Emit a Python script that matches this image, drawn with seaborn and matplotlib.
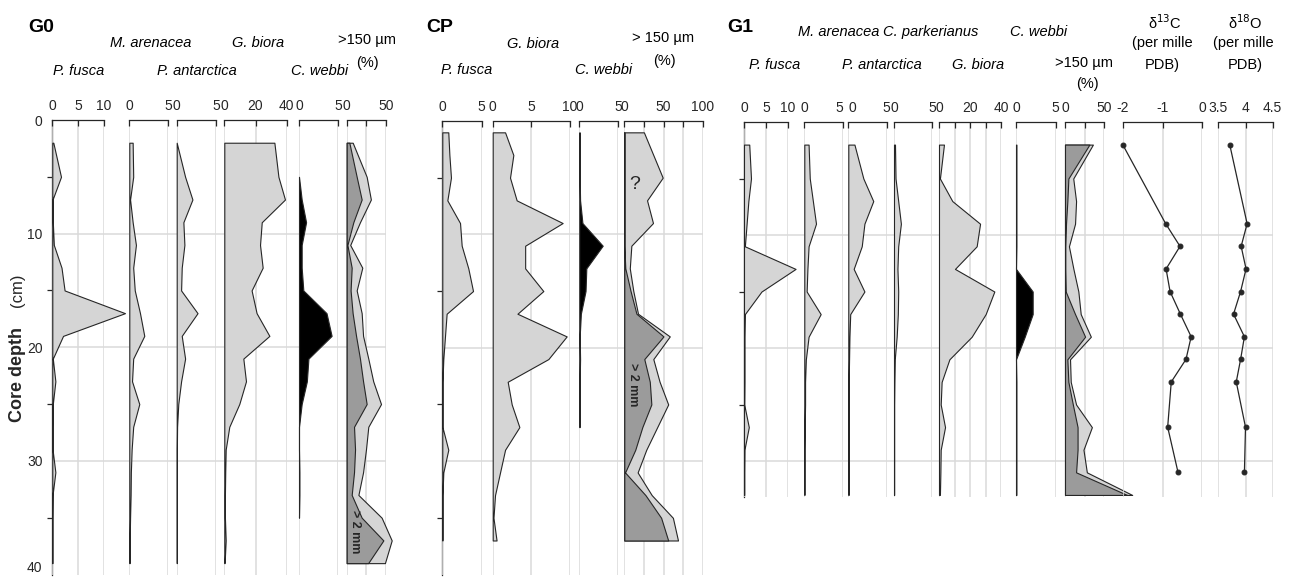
import numpy as np
import matplotlib.pyplot as plt
import seaborn as sns

sns.set_style("white")
plt.rcParams['font.family'] = ['Liberation Sans', 'DejaVu Sans']

nan = np.nan

# ---- G0 core (cm depth, counts / %)
g0_depth = [2, 5, 7, 9, 11, 13, 15, 17, 19, 21, 23, 25, 27, 29, 31, 33, 35, 37, 39]
g0_p_fusca = [0.2, 1.7, 0.05, 0.1, 0.3, 1.8, 2.4, 14.2, 2.1, 0.1, 0.6, 0.1, 0.05, 0.05, 0.6, 0.05, 0.0, 0.0, 0.0]
g0_m_arenacea = [0.43, 0.5, 0.1, 0.43, 0.85, 0.5, 0.7, 1.37, 1.92, 0.5, 0.35, 1.28, 0.5, 0.3, 0.2, 0.17, 0.1, 0.05, 0.05]
g0_p_antarctica = [0.0, 1.07, 2.0, 0.85, 0.98, 0.64, 0.56, 2.65, 0.64, 1.07, 0.56, 0.2, 0.05, 0.02, 0.02, 0.02, 0.02, 0.02, 0.02]
g0_g_biora = [32.1, 34.7, 38.9, 24.0, 22.9, 24.6, 17.5, 20.7, 28.9, 12.2, 13.9, 9.6, 3.2, 0.9, 0.6, 0.4, 0.4, 0.9, 0.2]
g0_c_webbi = [nan, 0.0, 0.34, 0.9, 0.34, 0.34, 0.55, 3.5, 4.15, 1.2, 1.0, 0.34, 0.0, 0.0, 0.05, 0.05, 0.0, nan, nan]
g0_coarse_total = [7.7, 25.6, 31.0, 17.0, 4.5, 20.0, 12.8, 19.2, 21.0, 27.7, 34.0, 44.0, 27.7, 24.7, 21.0, 15.0, 44.8, 57.7, 49.0]
g0_gravel = [3.4, 12.8, 19.2, 8.5, 0.9, 6.4, 5.0, 7.6, 12.0, 17.0, 21.0, 25.6, 9.4, 10.7, 9.4, 6.4, 19.2, 47.0, 27.5]

# ---- CP core
cp_depth = [1, 3, 5, 7, 9, 11, 13, 15, 17, 19, 21, 23, 25, 27, 29, 31, 33, 35, 37]
cp_p_fusca = [0.76, 0.9, 1.1, 0.64, 2.25, 2.46, 3.3, 3.9, 0.55, 0.34, 0.13, 0.02, 0.02, 0.02, 0.76, 0.13, 0.02, 0.02, 0.02]
cp_g_biora = [1.6, 2.67, 2.24, 3.1, 9.05, 4.2, 4.2, 6.55, 3.2, 9.57, 7.2, 1.94, 2.46, 3.45, 1.6, 0.95, 0.3, 0.1, 0.5]
cp_c_webbi = [0.05, 0.05, 0.05, 0.1, 0.4, 3.0, 0.9, 0.8, 0.2, 0.05, 0.1, 0.05, 0.05, 0.05, nan, nan, nan, nan, nan]
cp_coarse_total = [25.0, 37.0, 49.0, 29.0, 36.6, 9.0, 7.0, 11.5, 17.5, 58.0, 37.0, 45.0, 56.0, 42.0, 28.0, 17.0, 35.0, 62.0, 68.5]
cp_gravel = [0.0, 0.0, 0.0, 0.0, 0.0, 0.0, 1.3, 8.0, 15.5, 50.0, 25.5, 32.5, 34.5, 23.0, 14.0, 1.0, 27.0, 47.0, 56.0]

# ---- G1 core
g1_depth = [2, 5, 7, 9, 11, 13, 15, 17, 19, 21, 23, 25, 27, 29, 31, 33]
g1_p_fusca = [1.2, 1.6, 1.0, 0.6, 0.2, 11.8, 4.0, 0.2, 0.1, 0.1, 0.1, 0.05, 1.1, 0.1, 0.05, 0.05]
g1_m_arenacea = [0.55, 0.7, 1.1, 1.5, 0.55, 0.4, 0.3, 2.1, 0.55, 0.2, 0.1, 0.1, 0.05, 0.02, 0.02, 0.02]
g1_p_antarctica = [0.8, 1.96, 3.25, 2.1, 1.75, 0.7, 2.1, 0.25, 0.15, 0.1, 0.05, 0.05, 0.05, 0.05, 0.05, 0.05]
g1_c_parkerianus = [0.13, 0.2, 0.55, 0.9, 0.55, 0.45, 0.55, 0.5, 0.35, 0.1, 0.05, 0.02, 0.02, 0.02, 0.02, 0.02]
g1_g_biora = [3.2, 0.6, 8.6, 26.5, 24.3, 10.3, 35.7, 30.1, 21.1, 6.7, 1.7, 1.1, 3.9, 1.1, 0.9, 0.6]
g1_c_webbi = [0.05, 0.05, 0.05, 0.05, 0.05, 0.0, 2.1, 2.1, 1.1, 0.0, 0.05, 0.05, 0.05, 0.05, 0.05, 0.05]
g1_coarse_total = [35.5, 10.5, 14.1, 12.8, 5.0, 10.7, 17.0, 20.0, 32.9, 6.4, 7.3, 14.1, 34.2, 23.5, 27.8, 85.5]
g1_gravel = [31.0, 4.3, 3.0, 1.3, 0.3, 0.3, 0.9, 12.8, 25.6, 3.0, 4.3, 10.0, 16.0, 16.0, 14.1, 79.0]

g1_iso_depth = [2, 9, 11, 13, 15, 17, 19, 21, 23, 27, 31]
d13c = [-2.0, -0.92, -0.56, -0.91, -0.81, -0.55, -0.28, -0.41, -0.78, -0.87, -0.61]
d18o = [3.71, 4.03, 3.92, 4.01, 3.91, 3.78, 3.98, 3.91, 3.83, 4.0, 3.98]

W, H = 1289, 577
INK = '#262626'
GRID = '#dadada'
LIGHT = '#d5d5d5'
DARK = '#9b9b9b'

fig = plt.figure(figsize=(W / 100, H / 100), dpi=100)


def px_axes(x0, x1, y0, y1):
    ax = fig.add_axes([x0 / W, 1 - y1 / H, (x1 - x0) / W, (y1 - y0) / H])
    ax.patch.set_alpha(0)
    return ax


def label(x, y, s, **kw):
    kw.setdefault('fontsize', 10.5)
    fig.text(x / W, 1 - y / H, s, ha='center', va='center', color='black', **kw)


def frame(x0, x1, top, bottom, max_depth, labelled):
    ax = px_axes(x0, x1, top, bottom)
    ax.set_xlim(0, 1)
    ax.set_ylim(max_depth, 0)
    ax.set_xticks([])
    for s in ['top', 'right', 'bottom']:
        ax.spines[s].set_visible(False)
    ax.spines['left'].set_color(INK)
    ax.spines['left'].set_linewidth(0.9)
    ax.set_yticks(np.arange(0, max_depth + 0.1, 10))
    ax.set_yticks(np.arange(5, max_depth, 10), minor=True)
    if not labelled:
        ax.set_yticklabels([])
    ax.tick_params(axis='y', which='major', length=5, width=0.9, color=INK, labelsize=10, pad=2)
    ax.tick_params(axis='y', which='minor', left=True, length=3.5, width=0.9, color=INK)
    for d in (10, 20, 30):
        ax.axhline(d, color=GRID, lw=1.1, zorder=0)
    return ax


def track(x0, x1, top, bottom, max_depth, lim, ticks, ticklabels):
    ax = px_axes(x0, x1, top, bottom)
    ax.set_xlim(*lim)
    ax.set_ylim(max_depth, 0)
    ax.set_yticks([])
    ax.set_xticks(ticks)
    ax.set_xticklabels(ticklabels)
    ax.xaxis.tick_top()
    ax.tick_params(axis='x', direction='in', length=4, width=0.9, color=INK, pad=5, labelsize=10)
    for s in ['left', 'right', 'bottom']:
        ax.spines[s].set_visible(False)
    ax.spines['top'].set_color(INK)
    ax.spines['top'].set_linewidth(0.9)
    ax.grid(axis='x', color=GRID, lw=1.1)
    ax.set_axisbelow(True)
    return ax


def area(ax, depth, values, color):
    ax.fill_betweenx(depth, 0, values, facecolor=color, edgecolor=INK,
                     linewidth=0.8, clip_on=False, zorder=2)


# ================= G0 =================
T0, B0 = 120, 574.5
ax = frame(52.3, 385.7, T0, B0, 40, True)
ax.get_yticklabels()[-1].set_va('bottom')
ax = track(52.3, 103.5, T0, B0, 40, (0, 10), [0, 5, 10], ['0', '5', '10'])
area(ax, g0_depth, g0_p_fusca, LIGHT)
ax = track(129.3, 168.3, T0, B0, 40, (0, 5), [0, 5], ['0', '5'])
area(ax, g0_depth, g0_m_arenacea, LIGHT)
ax = track(176.7, 216, T0, B0, 40, (0, 5), [0, 5], ['0', '5'])
area(ax, g0_depth, g0_p_antarctica, LIGHT)
ax = track(224.3, 286.7, T0, B0, 40, (0, 40), [0, 20, 40], ['0', '20', '40'])
area(ax, g0_depth, g0_g_biora, LIGHT)
ax = track(299, 338.3, T0, B0, 40, (0, 5), [0, 5], ['0', '5'])
area(ax, g0_depth, g0_c_webbi, 'black')
ax = track(346.7, 385.7, T0, B0, 40, (0, 50), [0, 25, 50], ['0', '', '50'])
area(ax, g0_depth, g0_coarse_total, LIGHT)
area(ax, g0_depth, g0_gravel, DARK)
ax.text(10.5, 36.2, '> 2 mm', rotation=270, ha='center', va='center',
        fontsize=9, fontweight='bold', zorder=5)

label(41.5, 27, 'G0', fontsize=14, fontweight='bold')
label(79, 71, 'P. fusca', style='italic')
label(151, 43, 'M. arenacea', style='italic')
label(197, 71, 'P. antarctica', style='italic')
label(258, 43, 'G. biora', style='italic')
label(320, 71, 'C. webbi', style='italic')
label(367, 40, '>150 µm')
label(367, 63, '(%)')
fig.text(18 / W, 1 - 375 / H, 'Core depth', rotation=90, ha='center', va='center',
         fontsize=13, fontweight='bold')
fig.text(18 / W, 1 - 290 / H, '(cm)', rotation=90, ha='center', va='center', fontsize=12)

# ================= CP =================
T1, B1 = 121, 574.5
frame(442.3, 702.7, T1, B1, 40, False)
ax = track(442.3, 481.7, T1, B1, 40, (0, 5), [0, 5], ['0', '5'])
area(ax, cp_depth, cp_p_fusca, LIGHT)
ax = track(492.7, 570, T1, B1, 40, (0, 10), [0, 5, 10], ['0', '5', '10'])
area(ax, cp_depth, cp_g_biora, LIGHT)
ax = track(579.3, 618.3, T1, B1, 40, (0, 5), [0, 5], ['0', '5'])
area(ax, cp_depth, cp_c_webbi, 'black')
ax = track(624.3, 702.7, T1, B1, 40, (0, 100), [0, 25, 50, 75, 100], ['0', '', '50', '', '100'])
area(ax, cp_depth, cp_coarse_total, LIGHT)
area(ax, cp_depth, cp_gravel, DARK)
ax.text(13, 5.6, '?', ha='center', va='center', fontsize=14, zorder=5)
ax.text(11, 23.3, '> 2 mm', rotation=270, ha='center', va='center',
        fontsize=9, fontweight='bold', zorder=5)

label(439.5, 27, 'CP', fontsize=14, fontweight='bold')
label(467, 70, 'P. fusca', style='italic')
label(533, 44, 'G. biora', style='italic')
label(604, 70, 'C. webbi', style='italic')
label(663, 38, '> 150 µm')
label(664, 61, '(%)')

# ================= G1 =================
T2, B2, D2 = 122, 497.2, 33.2
frame(744, 1272.7, T2, B2, D2, False)
ax = track(744, 787.7, T2, B2, D2, (0, 10), [0, 5, 10], ['0', '5', '10'])
area(ax, g1_depth, g1_p_fusca, LIGHT)
ax = track(804.3, 843.3, T2, B2, D2, (0, 5), [0, 5], ['0', '5'])
ax.get_xticklabels()[-1].set_ha('right')
area(ax, g1_depth, g1_m_arenacea, LIGHT)
ax = track(848.3, 886.7, T2, B2, D2, (0, 5), [0, 5], ['0', '5'])
ax.get_xticklabels()[0].set_ha('left')
area(ax, g1_depth, g1_p_antarctica, LIGHT)
ax = track(894, 932.3, T2, B2, D2, (0, 5), [0, 5], ['0', '5'])
area(ax, g1_depth, g1_c_parkerianus, LIGHT)
ax = track(939, 1001, T2, B2, D2, (0, 40), [0, 10, 20, 30, 40], ['0', '', '20', '', '40'])
area(ax, g1_depth, g1_g_biora, LIGHT)
ax = track(1016, 1055.7, T2, B2, D2, (0, 5), [0, 5], ['0', '5'])
area(ax, g1_depth, g1_c_webbi, 'black')
ax = track(1065, 1104.3, T2, B2, D2, (0, 50), [0, 25, 50], ['0', '', '50'])
area(ax, g1_depth, g1_coarse_total, LIGHT)
area(ax, g1_depth, g1_gravel, DARK)

ax = track(1122.7, 1202.3, T2, B2, D2, (-2, 0), [-2, -1, 0], ['-2', '-1', '0'])
sns.lineplot(x=d13c, y=g1_iso_depth, orient='y', ax=ax, color=INK, linewidth=0.9,
             marker='o', markersize=3.5, markeredgecolor=INK, clip_on=False)
ax.set_xlim(-2, 0)
ax.set_ylim(D2, 0)
ax.set_xlabel('')
ax.set_ylabel('')

ax = track(1218.3, 1272.7, T2, B2, D2, (3.5, 4.5), [3.5, 4, 4.5], ['3.5', '4', '4.5'])
sns.lineplot(x=d18o, y=g1_iso_depth, orient='y', ax=ax, color=INK, linewidth=0.9,
             marker='o', markersize=3.5, markeredgecolor=INK, clip_on=False)
ax.set_xlim(3.5, 4.5)
ax.set_ylim(D2, 0)
ax.set_xlabel('')
ax.set_ylabel('')

label(740.5, 27, 'G1', fontsize=14, fontweight='bold')
label(775, 65, 'P. fusca', style='italic')
label(839, 32, 'M. arenacea', style='italic')
label(931, 32, 'C. parkerianus', style='italic')
label(882, 65, 'P. antarctica', style='italic')
label(978, 65, 'G. biora', style='italic')
label(1039, 32, 'C. webbi', style='italic')
label(1084, 63, '>150 µm')
label(1087, 84, '(%)')
label(1165, 23, 'δ$^{13}$C')
label(1162, 43, '(per mille')
label(1162, 65, 'PDB)')
label(1245, 23, 'δ$^{18}$O')
label(1243, 43, '(per mille')
label(1245, 65, 'PDB)')

fig.savefig('out.png', dpi=100)
